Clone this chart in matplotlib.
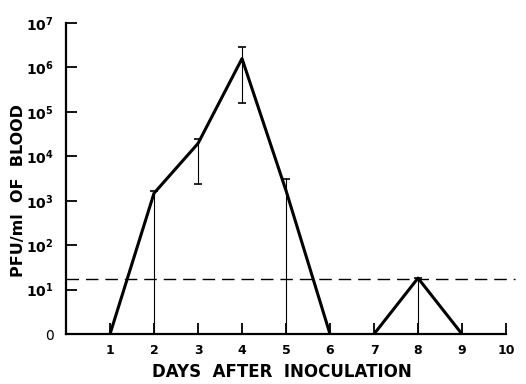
"""
Viremia after inoculation (PFU/ml of blood), log scale drawn as decades
"""

import numpy as np
import matplotlib.pyplot as plt

# log10 PFU/ml, 0 on the axis means "none detected"
days = np.array([1, 2, 3, 4, 5, 6, 7, 8, 9])
log_pfu = np.array([0, 3.17, 4.29, 6.20, 3.23, 0, 0, 1.26, 0])
err_hi = np.array([0, 0.05, 0.11, 0.25, 0.27, 0, 0, 0, 0])
err_lo = np.array([0, 3.17, 0.92, 1.01, 3.23, 0, 0, 1.26, 0])
detect_limit = 1.24

ytick_pos = [0, 1, 2, 3, 4, 5, 6, 7]
ytick_lab = ['0'] + [r'$\mathbf{10^{%d}}$' % k for k in range(1, 8)]

plt.rcParams['font.family'] = 'DejaVu Sans'
fig = plt.figure(figsize=(5.26, 3.84), dpi=100)
ax = fig.add_axes([0.1255, 0.130, 0.8365, 0.810])

has_err = (err_hi > 0) | (err_lo > 0)
ax.errorbar(days[has_err], log_pfu[has_err], yerr=[err_lo[has_err], err_hi[has_err]],
            fmt='none', ecolor='k', elinewidth=0.8, capsize=3, capthick=1.2, zorder=2)

ax.plot(days[:6], log_pfu[:6], 'k-', lw=2.2, zorder=3)
ax.plot(days[6:], log_pfu[6:], 'k-', lw=2.2, zorder=3)

ax.plot([0, 10.2], [detect_limit, detect_limit], 'k', lw=1, dashes=(9, 5), clip_on=False)

ax.set_xlim(0, 10)
ax.set_ylim(0, 7)
ax.set_xticks(range(1, 11))
ax.set_xticklabels([str(d) for d in range(1, 11)], fontsize=9, fontweight='bold')
ax.set_yticks(ytick_pos)
ax.set_yticklabels(ytick_lab, fontsize=10)
ax.tick_params(axis='x', direction='in', length=8, width=1.3, pad=7)
ax.tick_params(axis='y', direction='in', length=8, width=1.3, pad=9)

for s in ['top', 'right']:
    ax.spines[s].set_visible(False)
for s in ['left', 'bottom']:
    ax.spines[s].set_linewidth(1.6)

ax.set_xlabel("DAYS  AFTER  INOCULATION", fontsize=12, fontweight='bold')
ax.set_ylabel("PFU/ml  OF  BLOOD", fontsize=11.5, fontweight='bold')
ax.xaxis.set_label_coords(0.49, -0.093)
ax.yaxis.set_label_coords(-0.092, 0.463)

plt.savefig('out.png')
